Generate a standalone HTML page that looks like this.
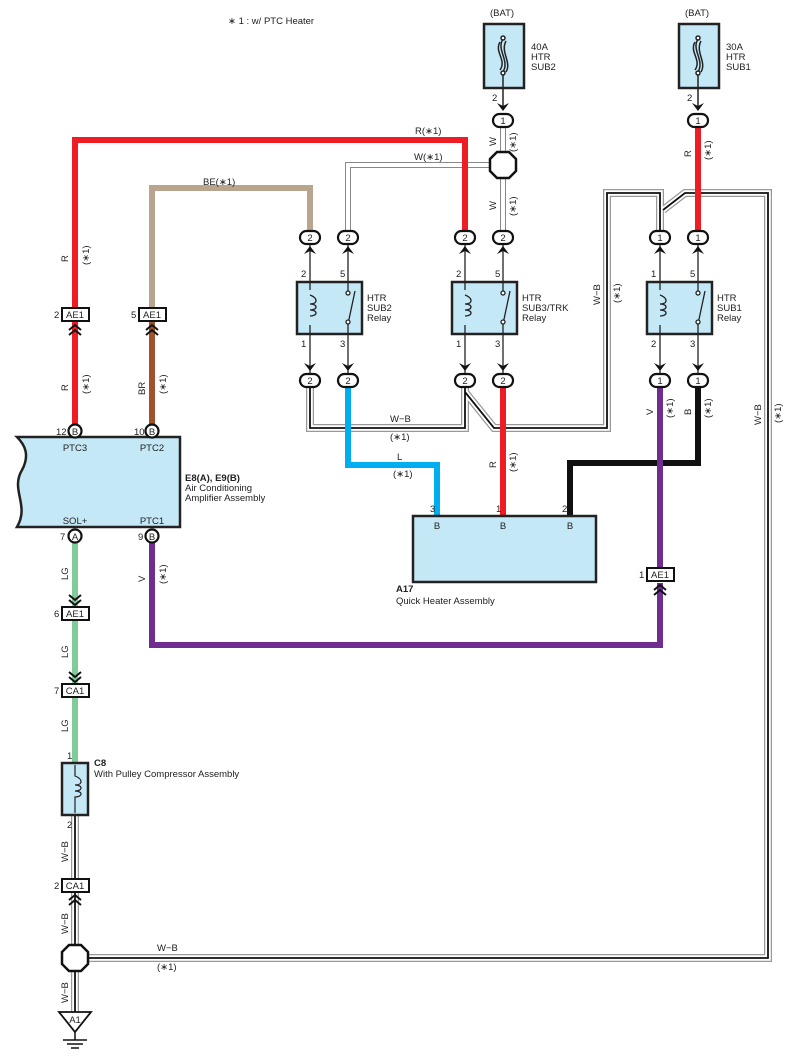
<!DOCTYPE html>
<html><head><meta charset="utf-8"><style>
html,body{margin:0;padding:0;background:#fff}
svg{display:block}
text{font-family:"Liberation Sans",sans-serif;font-size:9.5px;fill:#222}
.b{font-weight:bold}
</style></head><body>
<svg width="787" height="1063" viewBox="0 0 787 1063" xmlns="http://www.w3.org/2000/svg">
<text x="228" y="24">∗ 1 : w/ PTC Heater</text>

<!-- Fuses -->
<g stroke="#222" stroke-width="2.5" fill="#c5e8f7">
<rect x="484" y="24" width="40" height="64"/>
<rect x="679" y="24" width="40" height="64"/>
</g>
<text x="490" y="16">(BAT)</text><text x="685" y="16">(BAT)</text>
<text x="531" y="50">40A</text><text x="531" y="60">HTR</text><text x="531" y="70">SUB2</text>
<text x="726" y="50">30A</text><text x="726" y="60">HTR</text><text x="726" y="70">SUB1</text>
<g stroke="#222" stroke-width="1.5" fill="none">
<path d="M503 39 C496 50,510 60,503 72 M500 42 C494 52,507 60,500 70 M506 41 C500 52,512 62,506 72"/>
<circle cx="503" cy="38" r="2" fill="#fff"/><circle cx="503" cy="73" r="2" fill="#fff"/>
<line x1="503" y1="75" x2="503" y2="108"/>
<path d="M698 39 C691 50,705 60,698 72 M695 42 C689 52,702 60,695 70 M701 41 C695 52,707 62,701 72"/>
<circle cx="698" cy="38" r="2" fill="#fff"/><circle cx="698" cy="73" r="2" fill="#fff"/>
<line x1="698" y1="75" x2="698" y2="108"/>
</g>
<text x="492" y="101">2</text><text x="687" y="101">2</text>

<!-- W-B double wires (grey outer, white, black center) -->
<g fill="none" stroke-linejoin="miter">
<g stroke="#999" stroke-width="8">
<path d="M310 380 V428 H465 V380"/>
<path d="M465 392 L494 428 H607 V193 H660 V237"/>
<path d="M663 210 L685 193 H768 V958 H75"/>
<path d="M75 815 V1012"/>
</g>
<g stroke="#fff" stroke-width="5.5">
<path d="M310 380 V428 H465 V380"/>
<path d="M465 392 L494 428 H607 V193 H660 V237"/>
<path d="M663 210 L685 193 H768 V958 H75"/>
<path d="M75 815 V1012"/>
</g>
<g stroke="#111" stroke-width="1.8">
<path d="M310 380 V428 H465 V380"/>
<path d="M465 392 L494 428 H607 V193 H660 V237"/>
<path d="M663 210 L685 193 H768 V958 H75"/>
<path d="M75 815 V1012"/>
</g>
<!-- W wires -->
<g stroke="#888" stroke-width="6"><path d="M503 120 V237"/><path d="M503 165 H348 V237"/></g>
<g stroke="#fff" stroke-width="4"><path d="M503 120 V237"/><path d="M503 165 H348 V237"/></g>
<!-- coloured wires -->
<path d="M75 315 V140 H465 V237" stroke="#ee1c25" stroke-width="6"/>
<path d="M75 322 V431" stroke="#ee1c25" stroke-width="6"/>
<path d="M698 120 V237" stroke="#ee1c25" stroke-width="6"/>
<path d="M503 380 V516" stroke="#ee1c25" stroke-width="6"/>
<path d="M152 315 V188 H310 V237" stroke="#b9a48d" stroke-width="6"/>
<path d="M152 322 V431" stroke="#a0522d" stroke-width="6"/>
<path d="M348 380 V465 H437 V516" stroke="#00adef" stroke-width="6"/>
<path d="M698 380 V463 H570 V516" stroke="#111" stroke-width="6"/>
<path d="M660 380 V570" stroke="#6f2c91" stroke-width="6"/>
<path d="M660 583 V645 H152 V537" stroke="#6f2c91" stroke-width="6"/>
<path d="M75 537 V763" stroke="#7fcc9a" stroke-width="6"/>
</g>

<!-- Junctions -->
<g fill="#fff" stroke="#111" stroke-width="2.5">
<polygon points="497,152 509,152 516,159 516,171 509,178 497,178 490,171 490,159"/>
<polygon points="69,945 81,945 88,952 88,964 81,971 69,971 62,964 62,952"/>
</g>

<!-- Relays -->
<g stroke="#222" stroke-width="2.5" fill="#c5e8f7">
<rect x="297" y="282" width="65" height="52"/>
<rect x="452" y="282" width="65" height="52"/>
<rect x="647" y="282" width="65" height="52"/>
</g>
<g stroke="#222" stroke-width="1.3" fill="none">
<path d="M310 244 V290 M310 325 V374 M348 244 V291 M348 324 V374 M348 324 L355 291"/>
<path d="M310 295 C318 298,318 304,310 304 C318 304,318 310,310 310 C318 310,318 316,310 316"/>
<circle cx="348" cy="293" r="2" fill="#fff"/><circle cx="348" cy="322" r="2" fill="#fff"/>
<path d="M465 244 V290 M465 325 V374 M503 244 V291 M503 324 V374 M503 324 L510 291"/>
<path d="M465 295 C473 298,473 304,465 304 C473 304,473 310,465 310 C473 310,473 316,465 316"/>
<circle cx="503" cy="293" r="2" fill="#fff"/><circle cx="503" cy="322" r="2" fill="#fff"/>
<path d="M660 244 V290 M660 325 V374 M698 244 V291 M698 324 V374 M698 324 L705 291"/>
<path d="M660 295 C668 298,668 304,660 304 C668 304,668 310,660 310 C668 310,668 316,660 316"/>
<circle cx="698" cy="293" r="2" fill="#fff"/><circle cx="698" cy="322" r="2" fill="#fff"/>
</g>
<!-- chevrons -->
<g fill="#111">
<polygon points="304,254 310,246 316,254 310,251"/><polygon points="342,254 348,246 354,254 348,251"/>
<polygon points="459,254 465,246 471,254 465,251"/><polygon points="497,254 503,246 509,254 503,251"/>
<polygon points="654,254 660,246 666,254 660,251"/><polygon points="692,254 698,246 704,254 698,251"/>
<polygon points="304,363 310,371 316,363 310,366"/><polygon points="342,363 348,371 354,363 348,366"/>
<polygon points="459,363 465,371 471,363 465,366"/><polygon points="497,363 503,371 509,363 503,366"/>
<polygon points="654,363 660,371 666,363 660,366"/><polygon points="692,363 698,371 704,363 698,366"/>
<polygon points="497,103 503,111 509,103 503,106"/><polygon points="692,103 698,111 704,103 698,106"/>
</g>
<g font-size="9.5">
<text x="301" y="277">2</text><text x="340" y="277">5</text><text x="301" y="347">1</text><text x="340" y="347">3</text>
<text x="456" y="277">2</text><text x="495" y="277">5</text><text x="456" y="347">1</text><text x="495" y="347">3</text>
<text x="651" y="277">1</text><text x="690" y="277">5</text><text x="651" y="347">2</text><text x="690" y="347">3</text>
</g>
<text x="367" y="301">HTR</text><text x="367" y="311">SUB2</text><text x="367" y="321">Relay</text>
<text x="522" y="301">HTR</text><text x="522" y="311">SUB3/TRK</text><text x="522" y="321">Relay</text>
<text x="717" y="301">HTR</text><text x="717" y="311">SUB1</text><text x="717" y="321">Relay</text>

<!-- Oval connectors -->
<g fill="#fff" stroke="#111" stroke-width="2.2">
<rect x="493" y="114" width="20" height="13" rx="6.5"/><rect x="688" y="114" width="20" height="13" rx="6.5"/>
<rect x="300" y="231" width="20" height="13" rx="6.5"/><rect x="338" y="231" width="20" height="13" rx="6.5"/>
<rect x="455" y="231" width="20" height="13" rx="6.5"/><rect x="493" y="231" width="20" height="13" rx="6.5"/>
<rect x="650" y="231" width="20" height="13" rx="6.5"/><rect x="688" y="231" width="20" height="13" rx="6.5"/>
<rect x="300" y="374" width="20" height="13" rx="6.5"/><rect x="338" y="374" width="20" height="13" rx="6.5"/>
<rect x="455" y="374" width="20" height="13" rx="6.5"/><rect x="493" y="374" width="20" height="13" rx="6.5"/>
<rect x="650" y="374" width="20" height="13" rx="6.5"/><rect x="688" y="374" width="20" height="13" rx="6.5"/>
</g>
<g text-anchor="middle">
<text x="503" y="124">1</text><text x="698" y="124">1</text>
<text x="310" y="241">2</text><text x="348" y="241">2</text><text x="465" y="241">2</text><text x="503" y="241">2</text><text x="660" y="241">1</text><text x="698" y="241">1</text>
<text x="310" y="384">2</text><text x="348" y="384">2</text><text x="465" y="384">2</text><text x="503" y="384">2</text><text x="660" y="384">1</text><text x="698" y="384">1</text>
</g>

<!-- Amplifier -->
<path d="M17 437 H180 V527 H17 C30 505,10 490,22 470 C30 455,25 445,17 437 Z" fill="#c5e8f7" stroke="#222" stroke-width="2.5"/>
<g fill="#fff" stroke="#111" stroke-width="2.2">
<circle cx="75" cy="431" r="6.5"/><circle cx="152" cy="431" r="6.5"/>
<circle cx="75" cy="536" r="6.5"/><circle cx="152" cy="536" r="6.5"/>
</g>
<g text-anchor="middle" font-size="9">
<text x="75" y="435">B</text><text x="152" y="435">B</text><text x="75" y="540">A</text><text x="152" y="540">B</text>
<text x="75" y="451">PTC3</text><text x="152" y="451">PTC2</text><text x="75" y="524">SOL+</text><text x="152" y="524">PTC1</text>
</g>
<text x="56" y="435">12</text><text x="134" y="435">10</text><text x="60" y="540">7</text><text x="138" y="540">9</text>
<text x="185" y="481" class="b">E8(A), E9(B)</text>
<text x="185" y="491">Air Conditioning</text><text x="185" y="501">Amplifier Assembly</text>

<!-- A17 -->
<rect x="413" y="516" width="183" height="66" fill="#c5e8f7" stroke="#222" stroke-width="2.5"/>
<text x="437" y="529" text-anchor="middle">B</text><text x="503" y="529" text-anchor="middle">B</text><text x="570" y="529" text-anchor="middle">B</text>
<text x="430" y="512">3</text><text x="496" y="512">1</text><text x="562" y="512">2</text>
<text x="396" y="592" class="b">A17</text><text x="396" y="604">Quick Heater Assembly</text>

<!-- C8 -->
<rect x="62" y="763" width="26" height="52" fill="#c5e8f7" stroke="#222" stroke-width="2.5"/>
<path d="M75 765 V776 C83 779,83 785,75 785 C83 785,83 791,75 791 C83 791,83 797,75 797 V813" fill="none" stroke="#222" stroke-width="1.2"/>
<text x="67" y="759">1</text><text x="67" y="828">2</text>
<text x="94" y="766" class="b">C8</text><text x="94" y="777">With Pulley Compressor Assembly</text>

<!-- Inline connectors (AE1/CA1) -->
<g fill="#fff" stroke="#111" stroke-width="2">
<rect x="62" y="308" width="27" height="13"/><rect x="139" y="308" width="27" height="13"/>
<rect x="647" y="568" width="27" height="13"/>
<rect x="62" y="607" width="27" height="13"/><rect x="62" y="684" width="27" height="13"/>
<rect x="62" y="879" width="27" height="13"/>
</g>
<g text-anchor="middle" font-size="9.5">
<text x="75" y="318">AE1</text><text x="152" y="318">AE1</text><text x="660" y="578">AE1</text>
<text x="75" y="617">AE1</text><text x="75" y="694">CA1</text><text x="75" y="889">CA1</text>
</g>
<text x="54" y="318">2</text><text x="131" y="318">5</text><text x="639" y="578">1</text>
<text x="54" y="617">6</text><text x="54" y="694">7</text><text x="54" y="889">2</text>
<g fill="none" stroke="#111" stroke-width="2">
<path d="M69 330 L75 325 L81 330 M69 335 L75 330 L81 335"/>
<path d="M146 330 L152 325 L158 330 M146 335 L152 330 L158 335"/>
<path d="M654 590 L660 585 L666 590 M654 595 L660 590 L666 595"/>
<path d="M69 900 L75 895 L81 900 M69 905 L75 900 L81 905"/>
<path d="M69 595 L75 600 L81 595 M69 600 L75 605 L81 600"/>
<path d="M69 672 L75 677 L81 672 M69 677 L75 682 L81 677"/>
</g>

<!-- Ground -->
<polygon points="59,1012 91,1012 75,1032" fill="#fff" stroke="#111" stroke-width="1.8"/>
<text x="75" y="1023" text-anchor="middle">A1</text>
<g stroke="#111" stroke-width="1.5"><line x1="75" y1="1032" x2="75" y2="1040"/><line x1="63" y1="1040" x2="87" y2="1040"/><line x1="67" y1="1044" x2="83" y2="1044"/><line x1="71" y1="1048" x2="79" y2="1048"/></g>

<!-- wire labels -->
<text x="415" y="134">R(∗1)</text><text x="414" y="160">W(∗1)</text><text x="203" y="185">BE(∗1)</text>
<text x="390" y="422">W−B</text><text x="390" y="440">(∗1)</text>
<text x="397" y="460">L</text><text x="393" y="477">(∗1)</text>
<text x="157" y="951">W−B</text><text x="157" y="970">(∗1)</text>
<g font-size="9">
<text transform="translate(68,262) rotate(-90)">R</text><text transform="translate(89,265) rotate(-90)">(∗1)</text>
<text transform="translate(68,391) rotate(-90)">R</text><text transform="translate(89,394) rotate(-90)">(∗1)</text>
<text transform="translate(145,395) rotate(-90)">BR</text><text transform="translate(166,394) rotate(-90)">(∗1)</text>
<text transform="translate(145,582) rotate(-90)">V</text><text transform="translate(166,584) rotate(-90)">(∗1)</text>
<text transform="translate(68,580) rotate(-90)">LG</text><text transform="translate(68,658) rotate(-90)">LG</text><text transform="translate(68,732) rotate(-90)">LG</text>
<text transform="translate(68,862) rotate(-90)">W−B</text><text transform="translate(68,934) rotate(-90)">W−B</text><text transform="translate(68,1003) rotate(-90)">W−B</text>
<text transform="translate(496,146) rotate(-90)">W</text><text transform="translate(516,152) rotate(-90)">(∗1)</text>
<text transform="translate(496,210) rotate(-90)">W</text><text transform="translate(516,216) rotate(-90)">(∗1)</text>
<text transform="translate(691,157) rotate(-90)">R</text><text transform="translate(711,160) rotate(-90)">(∗1)</text>
<text transform="translate(496,468) rotate(-90)">R</text><text transform="translate(516,472) rotate(-90)">(∗1)</text>
<text transform="translate(653,415) rotate(-90)">V</text><text transform="translate(673,418) rotate(-90)">(∗1)</text>
<text transform="translate(691,415) rotate(-90)">B</text><text transform="translate(711,418) rotate(-90)">(∗1)</text>
<text transform="translate(600,305) rotate(-90)">W−B</text><text transform="translate(620,303) rotate(-90)">(∗1)</text>
<text transform="translate(761,425) rotate(-90)">W−B</text><text transform="translate(781,423) rotate(-90)">(∗1)</text>
</g>
</svg>
</body></html>
